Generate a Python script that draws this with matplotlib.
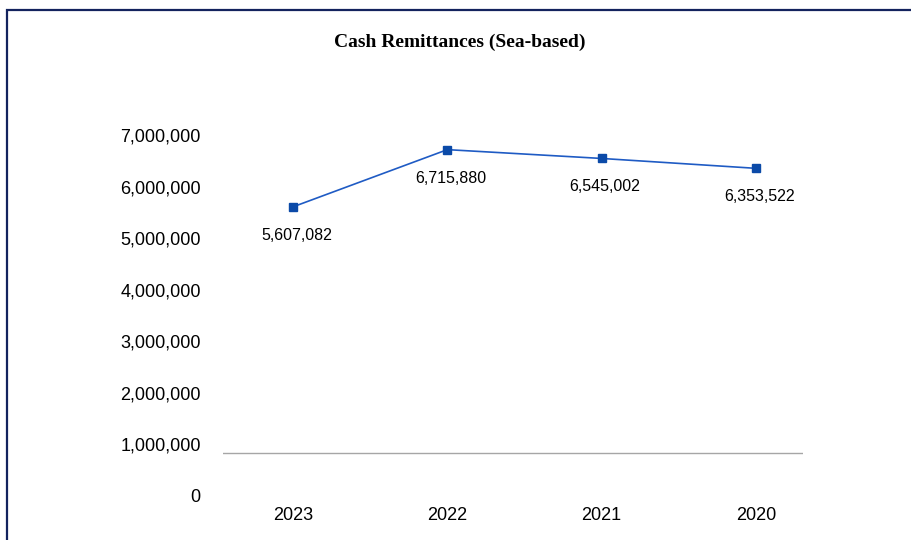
import matplotlib
matplotlib.use("Agg")
import matplotlib.pyplot as plt
from matplotlib.patches import Rectangle
from matplotlib.ticker import FuncFormatter

years = ["2023", "2022", "2021", "2020"]
remittances = [5607082, 6715880, 6545002, 6353522]
y_ticks = [0, 1000000, 2000000, 3000000, 4000000, 5000000, 6000000, 7000000]

fig = plt.figure(figsize=(9.12, 5.40), dpi=100)
ax = fig.add_axes([223 / 912, 44 / 540, 580 / 912, 386.8 / 540])

x = range(len(years))
ax.plot(x, remittances, color="#1f5bc4", linewidth=1.2, marker="s",
        markersize=6, markerfacecolor="#0b4aa8", markeredgecolor="#0b4aa8")

for xi, v in zip(x, remittances):
    ax.annotate(f"{v:,}", (xi, v), xytext=(2.5, -20.5), textcoords="offset points",
                ha="center", va="center", fontsize=11.5, family="Liberation Sans")

# grey base line drawn a little above zero, as in the original
ax.axhline(834000, color="#a6a6a6", linewidth=1)

ax.set_xlim(-0.454, 3.305)
ax.set_ylim(0, 7500000)
ax.set_xticks(list(x))
ax.set_xticklabels(years)
ax.set_yticks(y_ticks)
ax.yaxis.set_major_formatter(FuncFormatter(lambda v, p: f"{int(v):,}"))
ax.tick_params(axis="y", length=0, pad=16, labelsize=13)
ax.tick_params(axis="x", length=0, pad=8, labelsize=13)
for lbl in ax.get_xticklabels() + ax.get_yticklabels():
    lbl.set_family("Liberation Sans")
for s in ax.spines.values():
    s.set_visible(False)

fig.text(460 / 912, 1 - 42 / 540, "Cash Remittances (Sea-based)", ha="center",
         va="center", fontsize=14, fontweight="bold", family="Liberation Serif")

fig.patches.append(Rectangle((7.5 / 912, -0.1), 1.2, 1.1 - 10.5 / 540,
                             transform=fig.transFigure, fill=False,
                             edgecolor="#13235e", linewidth=1.6))

fig.savefig("out.png", dpi=100)
